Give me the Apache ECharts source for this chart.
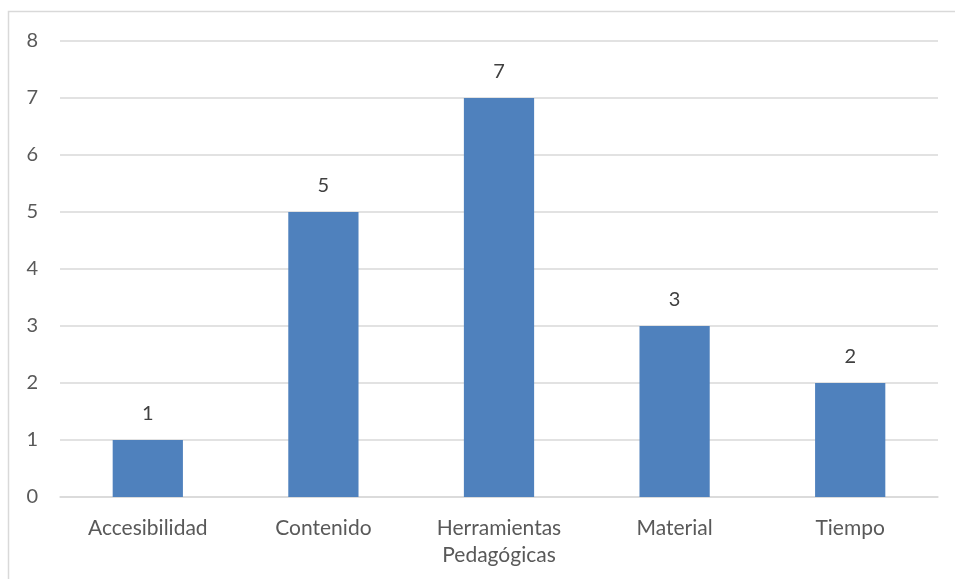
<!DOCTYPE html>
<html>
<head>
<meta charset="utf-8">
<script src="https://cdn.jsdelivr.net/npm/echarts@6/dist/echarts.min.js"></script>
<style>
  html, body { margin: 0; padding: 0; background: #fff; }
  #chart { width: 955px; height: 579px; }
</style>
</head>
<body>
<div id="chart"></div>
<script>
// categories and values
const categories = ['Accesibilidad', 'Contenido', 'Herramientas\nPedagógicas', 'Material', 'Tiempo'];
const counts = [1, 5, 7, 3, 2];
const yTicks = { min: 0, max: 8, interval: 1 };

let myChart = echarts.init(document.getElementById('chart'));

let option = {
    animation: false,
    backgroundColor: '#fff',
    textStyle: { fontFamily: 'Lato' },
    graphic: [{
        type: 'rect',
        shape: { x: 8.5, y: 11.5, width: 1000, height: 1000 },
        style: { fill: 'none', stroke: '#d9d9d9', lineWidth: 1.5 },
        silent: true
    }],
    grid: { left: 60, right: 17, top: 41, bottom: 82 },
    xAxis: {
        type: 'category',
        data: categories,
        axisTick: { show: false },
        axisLine: { lineStyle: { color: '#d9d9d9', width: 1.5 } },
        axisLabel: {
            color: '#595959',
            fontSize: 21,
            lineHeight: 27,
            margin: 18,
            interval: 0
        }
    },
    yAxis: {
        type: 'value',
        min: yTicks.min,
        max: yTicks.max,
        interval: yTicks.interval,
        axisLine: { show: false },
        axisTick: { show: false },
        axisLabel: { color: '#595959', fontSize: 20, margin: 22 },
        splitLine: { lineStyle: { color: '#d9d9d9', width: 1.5 } }
    },
    series: [{
        type: 'bar',
        data: counts,
        barWidth: '40%',
        itemStyle: { color: '#4f81bd' },
        label: {
            show: true,
            position: 'top',
            distance: 16,
            color: '#404040',
            fontSize: 20
        }
    }]
};

myChart.setOption(option);
</script>
</body>
</html>
